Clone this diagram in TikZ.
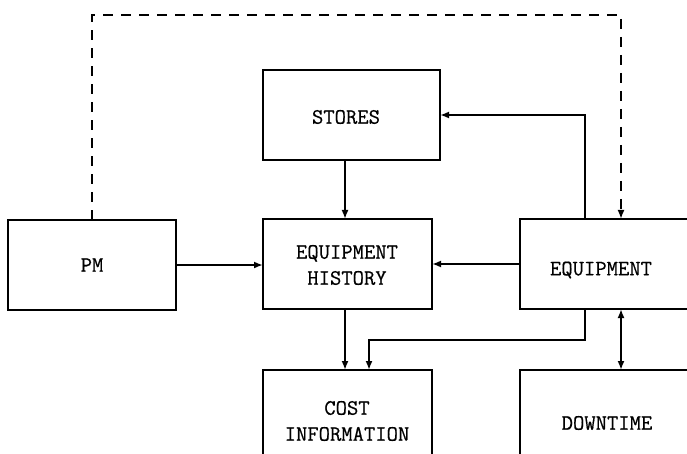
\documentclass[tikz,border=0pt]{standalone}
\usepackage{fontspec}
\setmonofont{Latin Modern Mono}[FakeBold=0.6]
\usetikzlibrary{arrows.meta,calc}
\begin{document}
\begin{tikzpicture}[x=1pt,y=-1pt,
  boxnode/.style={draw,line width=1.8pt,rectangle,inner sep=0pt,outer sep=0pt},
  conn/.style={line width=1.8pt,-{Latex[length=9pt,width=7pt]}},
  dconn/.style={line width=1.8pt,{Latex[length=9pt,width=7pt]}-{Latex[length=9pt,width=7pt]}},
  dashline/.style={line width=1.8pt,dash pattern=on 10pt off 8pt,-{Latex[length=9pt,width=7pt]}},
  lbl/.style={font=\fontsize{22}{26}\selectfont\ttfamily,align=center}]
\useasboundingbox (0,0) rectangle (687,454);
\clip (0,0) rectangle (687,454);
\fill[white] (0,0) rectangle (687,454);
% boxes
\node[boxnode,minimum width=177,minimum height=90] (stores) at (351.5,115) {};
\node[lbl] (storestxt) at (346,117) {STORES};
\node[boxnode,minimum width=168,minimum height=90] (pm) at (92,265) {};
\node[lbl] (pmtxt) at (92,265) {PM};
\node[boxnode,minimum width=169,minimum height=90] (hist) at (347.5,264) {};
\node[lbl] (histtxt) at (347,265) {EQUIPMENT\\HISTORY};
\node[boxnode,minimum width=190,minimum height=90] (equip) at (615,264) {};
\node[lbl] (equiptxt) at (601,270) {EQUIPMENT};
\node[boxnode,minimum width=169,minimum height=110] (cost) at (347.5,425) {};
\node[lbl] (costtxt) at (347,421) {COST\\INFORMATION};
\node[boxnode,minimum width=190,minimum height=110] (down) at (615,425) {};
\node[lbl] (downtxt) at (607,423) {DOWNTIME};
% connectors
\coordinate (dtop) at (621,15);
\coordinate (upx) at (585,0);
\coordinate (bend) at (585,340);
\coordinate (dax) at (621,0);
\draw[dashline] (pm.north) |- (dtop) -- (equip.north -| dtop);
\draw[conn] (equip.north -| upx) |- (stores.east);
\draw[conn] ([xshift=82]stores.south west) -- ([xshift=82]hist.north west);
\draw[conn] (pm.east) -- (pm.east -| hist.west);
\draw[conn] (equip.west) -- (equip.west -| hist.east);
\draw[conn] ([xshift=82]hist.south west) -- ([xshift=82]cost.north west);
\draw[conn] (equip.south -| bend) -- (bend) -| ([xshift=106]cost.north west);
\draw[dconn] (equip.south -| dax) -- (down.north -| dax);
\end{tikzpicture}
\end{document}
